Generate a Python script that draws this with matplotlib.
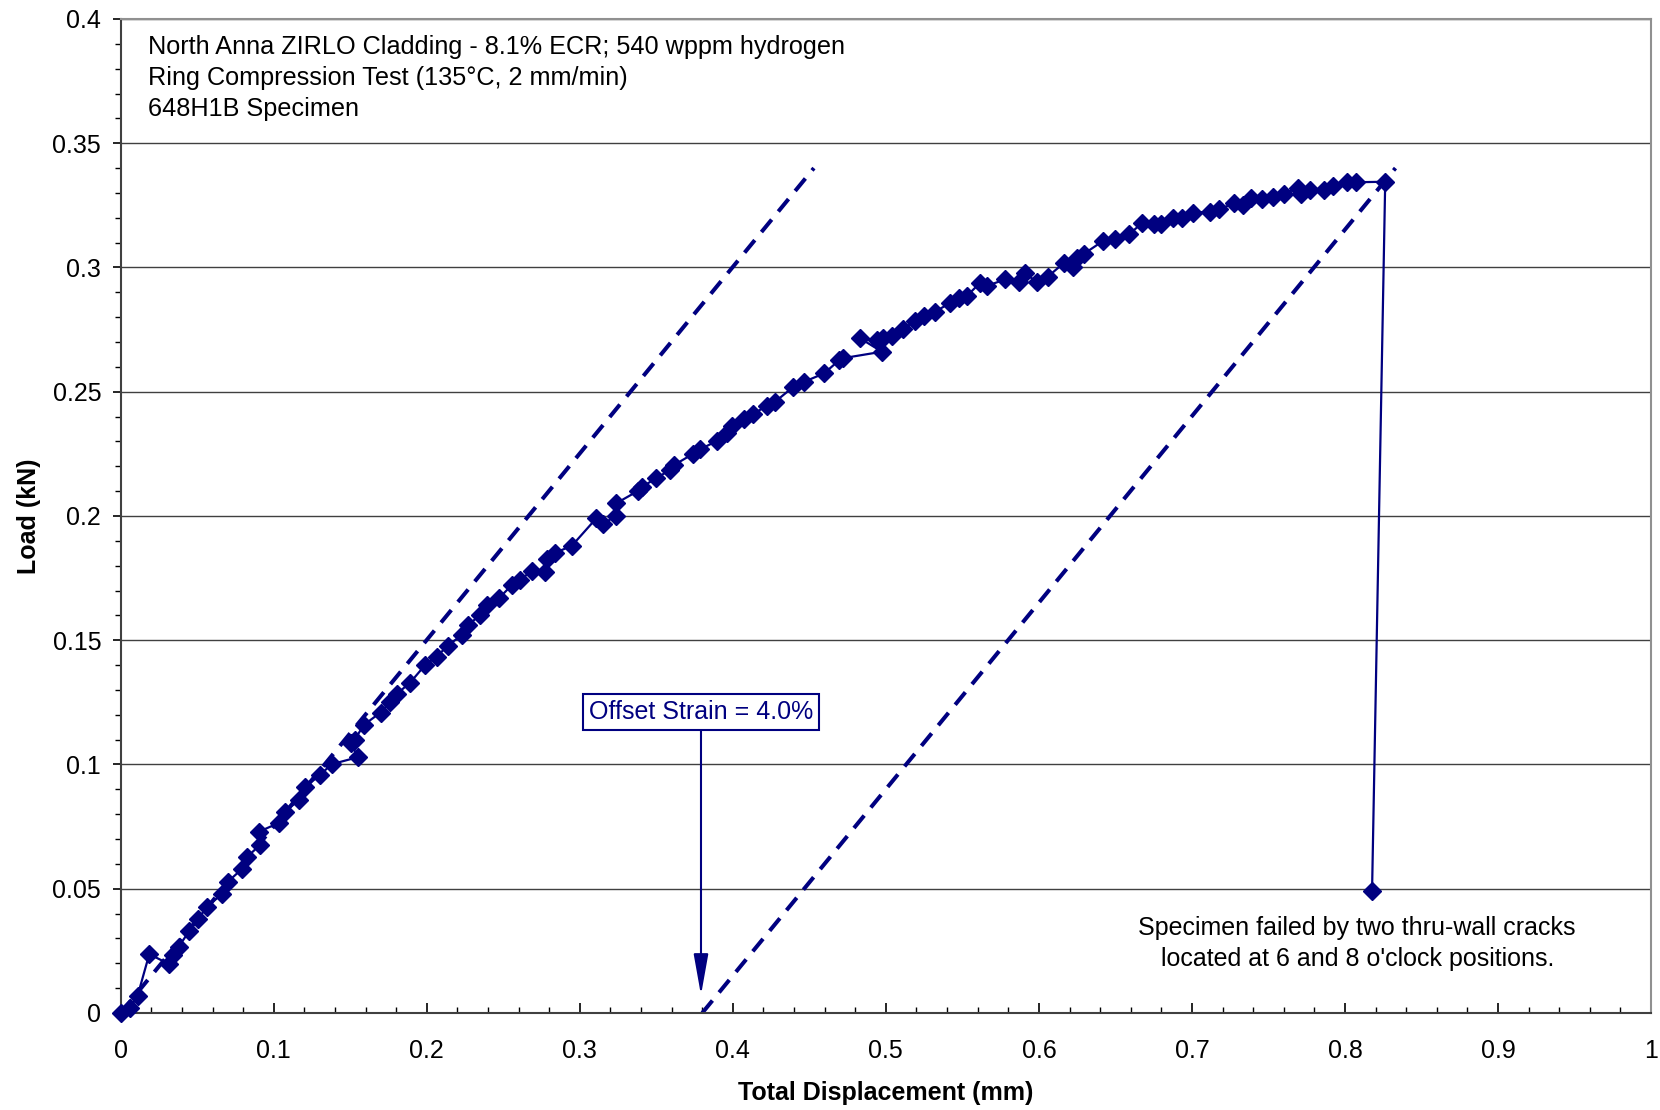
import matplotlib
matplotlib.use('Agg')
import matplotlib.pyplot as plt
from matplotlib.ticker import MultipleLocator, FuncFormatter

plt.rcParams['font.family'] = ['Liberation Sans', 'DejaVu Sans']

# measured load-displacement points (mm, kN), in test order
disp = [0.0, 0.006, 0.011, 0.0187, 0.0318, 0.0344, 0.038, 0.0449, 0.0507, 0.0566,
        0.0662, 0.070, 0.079, 0.0828, 0.091, 0.0906, 0.1037, 0.1074, 0.1165, 0.1205,
        0.1303, 0.1378, 0.1548, 0.1508, 0.1530, 0.1588, 0.1698, 0.176, 0.1804, 0.1891,
        0.1989, 0.2065, 0.2137, 0.2229, 0.2272, 0.2348, 0.2392, 0.2475, 0.2556, 0.261,
        0.2686, 0.2773, 0.2784, 0.2839, 0.2948, 0.3107, 0.3154, 0.3235, 0.3238, 0.3378,
        0.3405, 0.3498, 0.359, 0.3616, 0.374, 0.3786, 0.3899, 0.3961, 0.3993, 0.4074,
        0.4131, 0.4222, 0.4277, 0.4392, 0.4466, 0.4597, 0.4697, 0.472, 0.4974, 0.4832,
        0.4941, 0.4979, 0.5039, 0.5111, 0.5192, 0.5246, 0.5322, 0.5416, 0.5475, 0.5529,
        0.5612, 0.566, 0.578, 0.5867, 0.591, 0.5987, 0.6058, 0.6161, 0.6226, 0.6248,
        0.6292, 0.6422, 0.6499, 0.6592, 0.6673, 0.6754, 0.6797, 0.6876, 0.6935, 0.701,
        0.7115, 0.718, 0.7272, 0.7333, 0.7386, 0.7458, 0.7533, 0.7599, 0.769, 0.771,
        0.7773, 0.786, 0.7922, 0.8013, 0.8074, 0.8263, 0.8177]
load = [0.0, 0.002, 0.0068, 0.0237, 0.0196, 0.0233, 0.0267, 0.0331, 0.038, 0.0428,
        0.0479, 0.0528, 0.0578, 0.0629, 0.0676, 0.073, 0.0766, 0.081, 0.0857, 0.0909,
        0.0958, 0.1001, 0.1029, 0.1085, 0.1100, 0.1159, 0.1209, 0.1251, 0.1284, 0.1329,
        0.140, 0.1434, 0.1478, 0.1521, 0.1561, 0.1602, 0.1642, 0.1671, 0.1722, 0.1742,
        0.178, 0.1776, 0.1826, 0.1852, 0.188, 0.199, 0.1968, 0.2001, 0.2051, 0.2100,
        0.2116, 0.2152, 0.2185, 0.2205, 0.225, 0.2268, 0.2303, 0.2335, 0.2362, 0.2389,
        0.241, 0.2443, 0.246, 0.2518, 0.254, 0.2574, 0.2628, 0.2635, 0.2661, 0.2715,
        0.2708, 0.2718, 0.2724, 0.2751, 0.2786, 0.2805, 0.2822, 0.2856, 0.2876, 0.2885,
        0.2936, 0.2926, 0.2952, 0.2941, 0.2977, 0.2941, 0.2963, 0.3017, 0.3001, 0.3037,
        0.3054, 0.3108, 0.3113, 0.3135, 0.3178, 0.3175, 0.3175, 0.3198, 0.3198, 0.322,
        0.3225, 0.3234, 0.3258, 0.3251, 0.3278, 0.3274, 0.3285, 0.3296, 0.3319, 0.3296,
        0.3312, 0.3312, 0.3328, 0.3345, 0.3343, 0.3345, 0.049]

# elastic slope line and the same line shifted by the 4% offset strain
elastic_x = [0.0, 0.453]
elastic_y = [0.0, 0.340]
offset_x = [0.38, 0.833]
offset_y = [0.0, 0.340]

header = ['North Anna ZIRLO Cladding - 8.1% ECR; 540 wppm hydrogen',
          'Ring Compression Test (135\u00b0C, 2 mm/min)',
          '648H1B Specimen']
failure_note = ['Specimen failed by two thru-wall cracks',
                "located at 6 and 8 o'clock positions."]

navy = '#000080'

fig = plt.figure(figsize=(16.6, 11.1), dpi=100)
ax = fig.add_axes([0.0727, 0.0874, 0.9219, 0.8955])

ax.plot(elastic_x, elastic_y, color=navy, lw=2.9, dashes=(4.0, 2.6))
ax.plot(offset_x, offset_y, color=navy, lw=2.9, dashes=(4.0, 2.6))
ax.plot(disp, load, color=navy, lw=1.6, marker='D', markersize=9, clip_on=False, zorder=5)

ax.set_xlim(0, 1)
ax.set_ylim(0, 0.4)
ax.xaxis.set_major_locator(MultipleLocator(0.1))
ax.xaxis.set_minor_locator(MultipleLocator(0.02))
ax.yaxis.set_major_locator(MultipleLocator(0.05))
ax.yaxis.set_minor_locator(MultipleLocator(0.01))
fmt = FuncFormatter(lambda v, p: f'{v:g}')
ax.xaxis.set_major_formatter(fmt)
ax.yaxis.set_major_formatter(fmt)
ax.tick_params(axis='x', which='major', direction='in', length=7, width=1.2, pad=19, labelsize=18)
ax.tick_params(axis='x', which='minor', direction='in', length=4, width=1.0)
ax.tick_params(axis='y', which='major', direction='out', length=6, width=1.2, pad=8, labelsize=18)
ax.tick_params(axis='y', which='minor', direction='out', length=4, width=1.0)

ax.grid(axis='y', which='major', color='#404040', lw=1.0)
ax.set_axisbelow(True)
for side in ('left', 'bottom'):
    ax.spines[side].set_color('#404040')
    ax.spines[side].set_linewidth(1.5)
for side in ('top', 'right'):
    ax.spines[side].set_color('#909090')
    ax.spines[side].set_linewidth(1.5)

ax.set_xlabel('Total Displacement (mm)', fontsize=18, fontweight='bold', labelpad=13)
ax.set_ylabel('Load (kN)', fontsize=18, fontweight='bold', labelpad=8)

for i, line in enumerate(header):
    ax.text(0.0178, 0.3889 - i * 0.01255, line, fontsize=18.2, ha='left', va='center')
for i, line in enumerate(failure_note):
    ax.text(0.808, 0.0340 - i * 0.0123, line, fontsize=18, ha='center', va='center')

ax.annotate('Offset Strain = 4.0%', xy=(0.3792, 0.0072), xytext=(0.3792, 0.1211),
            fontsize=18, color=navy, ha='center', va='center',
            bbox=dict(boxstyle='square,pad=0.25', fc='white', ec=navy, lw=1.5),
            arrowprops=dict(arrowstyle='-|>,head_length=1.4,head_width=0.25',
                            color=navy, lw=1.5, shrinkA=0, shrinkB=0))

fig.savefig('out.png', dpi=100)
